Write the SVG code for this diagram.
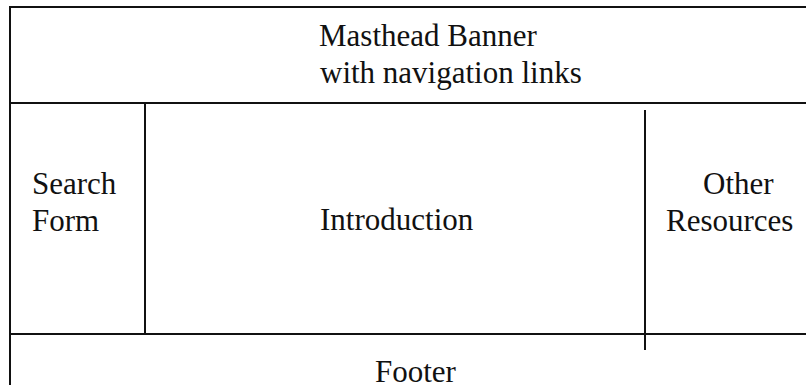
<svg xmlns="http://www.w3.org/2000/svg" width="806" height="385" viewBox="0 0 806 385">
<style>
.ln{stroke:#111;stroke-width:2;fill:none}
.t{font-family:"Liberation Serif","Times New Roman",serif;font-size:31px;fill:#111}
</style>
<rect width="806" height="385" fill="#fff"/>
<g id="lines">
<line class="ln" x1="10" y1="7" x2="806" y2="7"/>
<line class="ln" x1="10" y1="6" x2="10" y2="385"/>
<line class="ln" x1="10" y1="103" x2="806" y2="103"/>
<line class="ln" x1="145" y1="103" x2="145" y2="334"/>
<line class="ln" x1="10" y1="334" x2="806" y2="334"/>
<line class="ln" x1="645" y1="110" x2="645" y2="350"/>
</g>
<g id="banner"><text class="t" x="319" y="46">Masthead Banner</text><text class="t" x="320" y="83">with navigation links</text></g>
<g id="search"><text class="t" x="32" y="194">Search</text><text class="t" x="32" y="231">Form</text></g>
<g id="intro"><text class="t" x="320" y="230">Introduction</text></g>
<g id="resources"><text class="t" x="703" y="194">Other</text><text class="t" x="666" y="231">Resources</text></g>
<g id="footer"><text class="t" x="375" y="382">Footer</text></g>
</svg>
